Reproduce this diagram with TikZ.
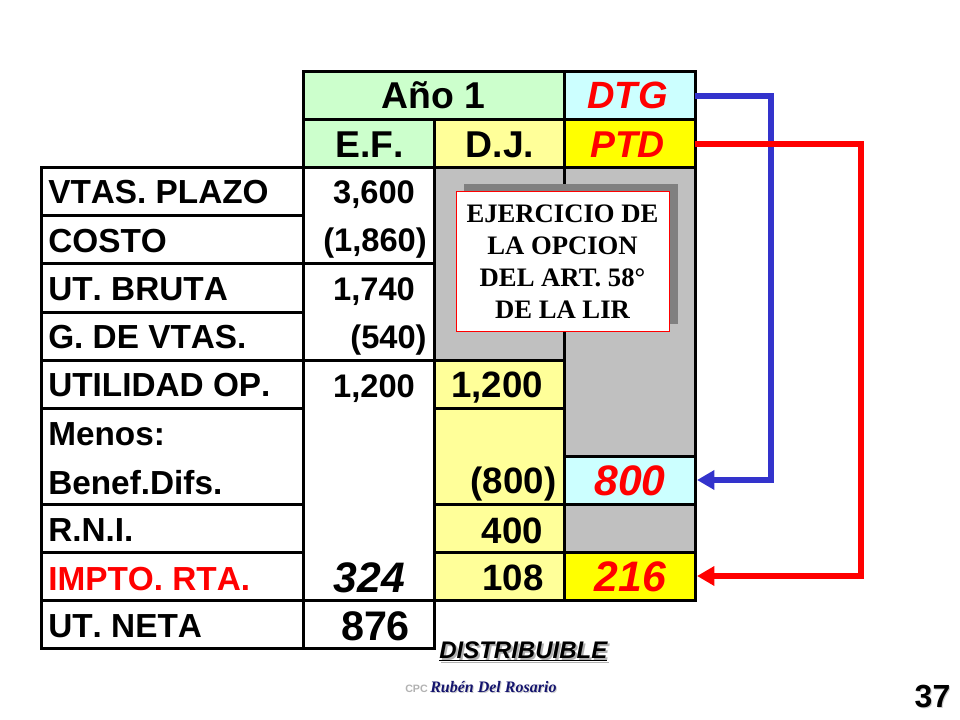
\documentclass[tikz,border=0pt]{standalone}
\usepackage{fontspec}
\setmainfont[RawFeature={-kern}]{Liberation Sans}
\newfontfamily\timesf{Liberation Serif}
\usetikzlibrary{arrows.meta}
\definecolor{cgreen}{HTML}{CCFFCC}
\definecolor{ccyan}{HTML}{CCFFFF}
\definecolor{cyell}{HTML}{FFFF00}
\definecolor{clyel}{HTML}{FFFF99}
\definecolor{cgray}{HTML}{C0C0C0}
\definecolor{cshad}{HTML}{808080}
\definecolor{cblue}{HTML}{3333CC}
\definecolor{cnavy}{HTML}{14146E}
\tikzset{
  cellbox/.style={draw=black,line width=2.25pt,inner sep=0pt,outer sep=0pt,rectangle},
  lab/.style={anchor=base west,inner sep=0pt,font=\bfseries\fontsize{25}{30}\selectfont},
  num/.style={anchor=base,inner sep=0pt,font=\bfseries\fontsize{#1}{#1}\selectfont},
  red num/.style={anchor=base,inner sep=0pt,text=red,font=\bfseries\itshape\fontsize{#1}{#1}\selectfont},
  conn/.style={line width=4.6pt,line join=miter,shorten >=1.5pt,-{Triangle[length=13pt,width=14pt]}},
}
\newcommand\cellat[6]{%
  \pgfmathsetmacro\cw{(#4-#2)*0.75}%
  \pgfmathsetmacro\ch{(#5-#3)*0.75}%
  \node[cellbox,fill=#6,minimum width=\cw pt,minimum height=\ch pt] (#1) at ({(#2+#4)/2},{(#3+#5)/2}) {};%
}
\begin{document}
\begin{tikzpicture}[x=0.75pt,y=-0.75pt]
\useasboundingbox (0,0) rectangle (960,720);
\fill[white] (0,0) rectangle (960,720);
% header
\cellat{ano}{303}{72}{564}{120}{cgreen}
\cellat{dtg}{564}{72}{695}{120}{ccyan}
\cellat{ef}{303}{120}{434}{168}{cgreen}
\cellat{dj}{434}{120}{564}{168}{clyel}
\cellat{ptd}{564}{120}{695}{168}{cyell}
% left labels
\cellat{r1}{41}{168}{303}{216}{white}
\cellat{r2}{41}{216}{303}{264}{white}
\cellat{r3}{41}{264}{303}{312}{white}
\cellat{r4}{41}{312}{303}{360}{white}
\cellat{r5}{41}{360}{303}{408}{white}
\cellat{r6}{41}{408}{303}{504}{white}
\cellat{r7}{41}{504}{303}{552}{white}
\cellat{r8}{41}{552}{303}{600}{white}
\cellat{r9}{41}{600}{303}{648}{white}
% E.F. column
\cellat{e1}{303}{168}{434}{264}{white}
\cellat{e2}{303}{264}{434}{360}{white}
\cellat{e3}{303}{360}{434}{600}{white}
\cellat{e4}{303}{600}{434}{648}{white}
% D.J. column
\cellat{d1}{434}{168}{564}{360}{cgray}
\cellat{d2}{434}{360}{564}{408}{clyel}
\cellat{d3}{434}{408}{564}{504}{clyel}
\cellat{d4}{434}{504}{564}{552}{clyel}
\cellat{d5}{434}{552}{564}{600}{clyel}
% PTD column
\cellat{p1}{564}{168}{695}{456}{cgray}
\cellat{p2}{564}{456}{695}{504}{ccyan}
\cellat{p3}{564}{504}{695}{552}{cgray}
\cellat{p4}{564}{552}{695}{600}{cyell}
% header text
\node[num=28] (tano) at (433.5,109) {Año 1};
\node[num=28] (tef) at (369.5,158) {E.F.};
\node[num=28] (tdj) at (500,158) {D.J.};
\node[red num=28.5] (tdtg) at (627.5,109) {DTG};
\node[red num=28] (tptd) at (627.5,158) {PTD};
% left text
\node[lab] (l1) at (48,204) {VTAS. PLAZO};
\node[lab] (l2) at (48,252.5) {COSTO};
\node[lab] (l3) at (48,300.5) {UT. BRUTA};
\node[lab] (l4) at (48,349) {G. DE VTAS.};
\node[lab] (l5) at (48,396.5) {UTILIDAD OP.};
\node[lab] (l6) at (48,445) {Menos:};
\node[lab] (l7) at (48,494) {Benef.Difs.};
\node[lab] (l8) at (48,541.5) {R.N.I.};
\node[lab,text=red] (l9) at (48,590) {IMPTO. RTA.};
\node[lab] (l10) at (48,637.5) {UT. NETA};
% E.F. values
\node[num=24.5] (v1) at (374,204) {3,600};
\node[num=24.5] (v2) at (375,252) {(1,860)};
\node[num=24.5] (v3) at (374,300.5) {1,740};
\node[num=24.5] (v4) at (388.5,349) {(540)};
\node[num=24.5] (v5) at (374,397) {1,200};
\node[anchor=base,inner sep=0pt,font=\bfseries\itshape\fontsize{32}{32}\selectfont] (v6) at (369.5,592) {324};
\node[num=31] (v7) at (375.5,640) {876};
% D.J. values
\node[num=27.5] (w1) at (497,397) {1,200};
\node[num=27.5] (w2) at (513.5,493) {(800)};
\node[num=27.5] (w3) at (512.5,543) {400};
\node[num=27.5] (w4) at (513,590) {108};
% PTD values
\node[red num=32] (x1) at (630,495) {800};
\node[red num=32] (x2) at (630.5,591) {216};
% callout
\node[rectangle,fill=cshad,inner sep=0pt,minimum width=160.5pt,minimum height=105pt] (shadowbox) at (571,254) {};
\node[rectangle,draw=red,line width=0.75pt,fill=white,inner sep=0pt,minimum width=159.75pt,minimum height=104.25pt,
  align=center,font=\timesf\bfseries\fontsize{20}{24}\selectfont] (callout) at (562.5,261.5)
  {EJERCICIO DE\\LA OPCION\\DEL ART. 58°\\DE LA LIR};
% connectors
\coordinate (bc) at (771,96);
\coordinate (rc) at (861,144);
\draw[conn,cblue] (dtg.east) -- (bc) -- (bc |- p2.east) -- (p2.east);
\draw[conn,red] (ptd.east) -- (rc) -- (rc |- p4.east) -- (p4.east);
% footer
\node[anchor=base west,inner sep=0pt,text=black!30,font=\bfseries\itshape\fontsize{18}{18}\selectfont] (dshadow) at (441,660) {\underline{DISTRIBUIBLE}};
\node[anchor=base west,inner sep=0pt,font=\bfseries\itshape\fontsize{18}{18}\selectfont] (dist) at (439,658) {\underline{DISTRIBUIBLE}};
\node[anchor=base west,inner sep=0pt,text=black!30,font=\bfseries\fontsize{8}{8}\selectfont] (cpc) at (405,692) {CPC};
\node[anchor=base west,inner sep=0pt,text=black!20,font=\timesf\bfseries\itshape\fontsize{12}{12}\selectfont] (rshadow) at (431,693) {Rubén Del Rosario};
\node[anchor=base west,inner sep=0pt,text=cnavy,font=\timesf\bfseries\itshape\fontsize{12}{12}\selectfont] (ruben) at (430,692) {Rubén Del Rosario};
\node[anchor=base,inner sep=0pt,text=black!20,font=\bfseries\fontsize{24}{24}\selectfont] (pshadow) at (933.5,708.5) {37};
\node[anchor=base,inner sep=0pt,font=\bfseries\fontsize{24}{24}\selectfont] (pagenum) at (932.5,707.5) {37};
\end{tikzpicture}
\end{document}
